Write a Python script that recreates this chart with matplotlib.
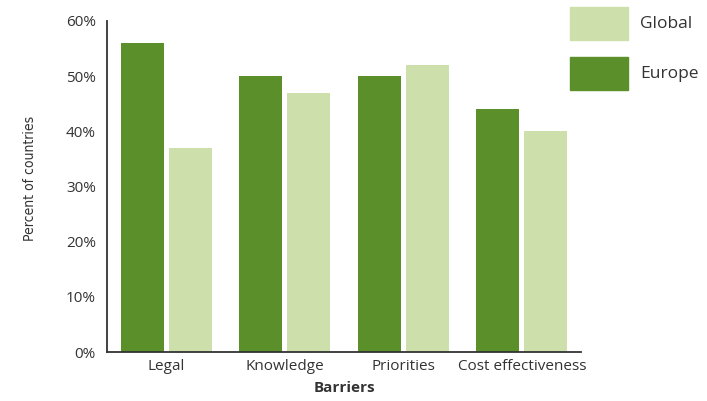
import numpy as np
import matplotlib
matplotlib.use("Agg")
import matplotlib.pyplot as plt
from matplotlib.patches import Rectangle

# dados
barriers = ["Legal", "Knowledge", "Priorities", "Cost effectiveness"]
europe = [56, 50, 50, 44]
global_ = [37, 47, 52, 40]
yticks = [0, 10, 20, 30, 40, 50, 60]

c_europe = "#5b8f2a"
c_global = "#cddfab"

plt.rcParams["font.family"] = ["Open Sans", "DejaVu Sans"]

fig = plt.figure(figsize=(7.07, 4.01), dpi=100)
ax = fig.add_axes([107 / 707, 49 / 401, (581 - 107) / 707, (352 - 21) / 401])

x = np.arange(len(barriers))
w = 0.363
off = 0.203
ax.bar(x - off, europe, width=w, color=c_europe)
ax.bar(x + off, global_, width=w, color=c_global)

ax.set_xlim(-0.5, 3.5)
ax.set_ylim(0, 60)
ax.set_yticks(yticks)
ax.set_yticklabels([f"{v}%" for v in yticks], fontsize=11, color="#333333")
ax.set_xticks(x)
ax.set_xticklabels(barriers, fontsize=11, color="#333333")
ax.tick_params(length=0, pad=5)
ax.tick_params(axis="y", pad=8)

for s in ["top", "right"]:
    ax.spines[s].set_visible(False)
for s in ["left", "bottom"]:
    ax.spines[s].set_color("#333333")
    ax.spines[s].set_linewidth(1.3)

ax.set_xlabel("Barriers", fontsize=11, fontweight="bold", color="#333333", labelpad=5)
fig.text(30 / 707, 1 - 178 / 401, "Percent of countries", rotation=90,
         ha="center", va="center", fontsize=10, color="#333333",
         family=["Liberation Sans Narrow", "DejaVu Sans"], fontstretch="condensed")

# legenda manual
for y0, col, lab in [(7, c_global, "Global"), (57, c_europe, "Europe")]:
    fig.patches.append(Rectangle((570 / 707, 1 - (y0 + 33) / 401), 58 / 707, 33 / 401,
                                 transform=fig.transFigure, color=col))
    fig.text(640 / 707, 1 - (y0 + 17) / 401, lab, fontsize=12.5, color="#333333",
             va="center", ha="left")

fig.savefig("out.png", dpi=100)
